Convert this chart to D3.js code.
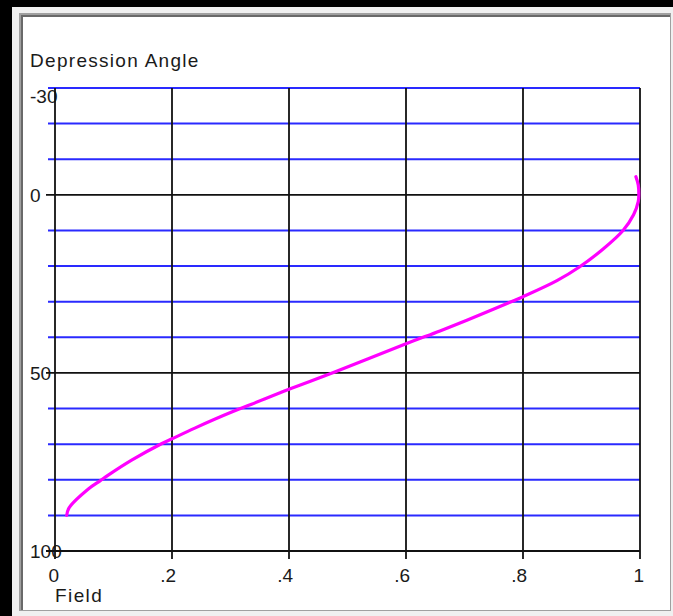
<!DOCTYPE html>
<html>
<head>
<meta charset="utf-8">
<script src="https://cdn.jsdelivr.net/npm/d3@7"></script>
<style>
  html, body { margin: 0; padding: 0; background: #000; }
  svg { display: block; }
  text { font-family: "Liberation Sans", Arial, sans-serif; fill: #1a1a1a; }
</style>
</head>
<body>
<div id="chart"></div>
<script>
// curve: field (0..1) vs depression angle (degrees)
var fieldValues = [0.020, 0.024, 0.057, 0.077, 0.091, 0.131, 0.182, 0.200, 0.239, 0.302, 0.336,
                   0.400, 0.476, 0.600, 0.658, 0.704, 0.783, 0.800, 0.858, 0.897, 0.937,
                   0.971, 0.989, 0.997, 0.998, 0.997, 0.993];
var angleValues = [90.0, 87.9, 82.6, 80.3, 78.7, 74.5, 69.9, 68.5, 65.5, 61.0, 58.8,
                   54.6, 49.9, 41.8, 38.2, 35.2, 29.8, 28.6, 24.1, 20.2, 15.2,
                   10.0, 5.6, 1.9, 0.0, -2.8, -5.1];

var xTicks = [0, 0.2, 0.4, 0.6, 0.8, 1];
var xTickLabels = ["0", ".2", ".4", ".6", ".8", "1"];
var yGrid = [-30, -20, -10, 0, 10, 20, 30, 40, 50, 60, 70, 80, 90, 100];
var yMajor = [0, 50, 100];
var yLabels = [-30, 0, 50, 100];

(function() {
  var width = 673;
  var height = 616;
  var plotLeft = 55, plotRight = 640, plotTop = 88, plotBottom = 551;

  var xScale = d3.scaleLinear().domain([0, 1]).range([plotLeft, plotRight]);
  var yScale = d3.scaleLinear().domain([-30, 100]).range([plotTop, plotBottom]);

  var svg = d3.select("#chart").append("svg")
    .attr("width", width)
    .attr("height", height);

  /* window frame */
  svg.append("rect").attr("x", 0).attr("y", 0).attr("width", width).attr("height", height).attr("fill", "#000");
  svg.append("rect").attr("x", 12).attr("y", 7).attr("width", width - 12).attr("height", height - 7).attr("fill", "#f0f0f0");
  svg.append("rect").attr("x", 19).attr("y", 13).attr("width", 652).attr("height", 598).attr("fill", "#a0a0a0");
  svg.append("rect").attr("x", 21).attr("y", 15).attr("width", 649).attr("height", 595).attr("fill", "#696969");
  svg.append("rect").attr("x", 23).attr("y", 17).attr("width", 647).attr("height", 593).attr("fill", "#fff");

  /* texts */
  svg.append("text")
    .attr("x", 30).attr("y", 67)
    .style("font-size", "19px")
    .style("letter-spacing", "1.3px")
    .text("Depression Angle");

  svg.append("g").selectAll("text")
    .data(yLabels).enter()
    .append("text")
    .attr("x", 30)
    .attr("y", d => Math.max(yScale(d), plotTop + 8) + 7)
    .style("font-size", "19px")
    .text(d => d);

  svg.append("g").selectAll("text")
    .data(xTicks).enter()
    .append("text")
    .attr("x", d => xScale(d) + 4)
    .attr("y", 582)
    .attr("text-anchor", "end")
    .style("font-size", "19px")
    .text((d, i) => xTickLabels[i]);

  svg.append("text")
    .attr("x", 55).attr("y", 602)
    .style("font-size", "19px")
    .style("letter-spacing", "1.4px")
    .text("Field");

  /* grid */
  var grid = svg.append("g");

  grid.selectAll(".hminor")
    .data(yGrid.filter(d => yMajor.indexOf(d) < 0)).enter()
    .append("line")
    .attr("class", "hminor")
    .attr("x1", plotLeft - 7).attr("x2", plotRight)
    .attr("y1", d => yScale(d)).attr("y2", d => yScale(d))
    .attr("stroke", "#2a2aff")
    .attr("stroke-width", 2);

  grid.selectAll(".vline")
    .data(xTicks).enter()
    .append("line")
    .attr("class", "vline")
    .attr("x1", d => xScale(d)).attr("x2", d => xScale(d))
    .attr("y1", plotTop).attr("y2", plotBottom + 8)
    .attr("stroke", "#111")
    .attr("stroke-width", 1.8);

  grid.selectAll(".hmajor")
    .data(yMajor).enter()
    .append("line")
    .attr("class", "hmajor")
    .attr("x1", plotLeft - 9).attr("x2", plotRight)
    .attr("y1", d => yScale(d)).attr("y2", d => yScale(d))
    .attr("stroke", "#111")
    .attr("stroke-width", 1.8);

  /* curve */
  var points = fieldValues.map((f, i) => [f, angleValues[i]]);

  var line = d3.line()
    .curve(d3.curveCatmullRom)
    .x(d => xScale(d[0]))
    .y(d => yScale(d[1]));

  svg.append("path")
    .datum(points)
    .attr("d", line)
    .attr("fill", "none")
    .attr("stroke", "#ff00ff")
    .attr("stroke-width", 3.2)
    .attr("stroke-linejoin", "round")
    .attr("stroke-linecap", "round");
})();
</script>
</body>
</html>
